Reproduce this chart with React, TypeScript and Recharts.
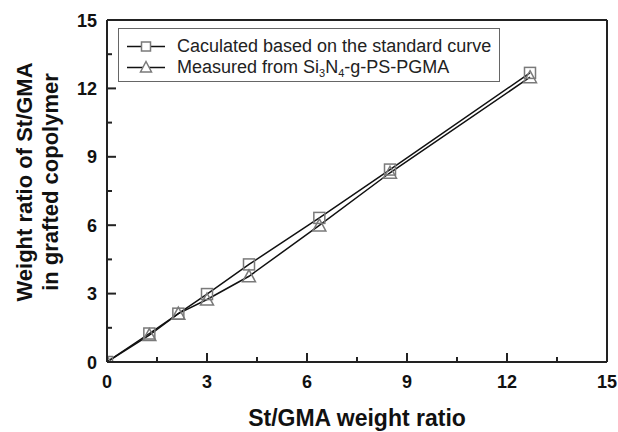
import React from 'react';
import { LineChart, Line, XAxis, YAxis, ReferenceLine, Legend, Label } from 'recharts';

const ratio = [0, 1.27, 2.14, 3.0, 4.26, 6.37, 8.49, 12.69];
const calculated = [0, 1.25, 2.12, 2.98, 4.28, 6.32, 8.44, 12.68];
const measured = [0, 1.18, 2.12, 2.74, 3.76, 5.99, 8.3, 12.49];
const axisTicks = [0, 1.5, 3, 4.5, 6, 7.5, 9, 10.5, 12, 13.5, 15];

const data = ratio.map((r, i) => ({ ratio: r, calculated: calculated[i], measured: measured[i] }));

const FONT = '"Liberation Sans", Arial, Helvetica, sans-serif';
const AXIS = '#222';
const MARK = '#7a7a7a';

const Square = (props: any) => {
  const { cx, cy } = props;
  if (cx == null || cy == null) return <g />;
  return <rect x={cx - 5.5} y={cy - 5.5} width={11} height={11} fill="none" stroke={MARK} strokeWidth={1.5} />;
};

const Triangle = (props: any) => {
  const { cx, cy } = props;
  if (cx == null || cy == null) return <g />;
  return (
    <path
      d={`M${cx},${cy - 6.5} L${cx + 6.5},${cy + 5.5} L${cx - 6.5},${cy + 5.5} Z`}
      fill="none"
      stroke={MARK}
      strokeWidth={1.5}
    />
  );
};

const XTick = (props: any) => {
  const { x, y, payload } = props;
  const major = payload.value % 3 === 0;
  return (
    <g>
      <line x1={x} y1={y} x2={x} y2={y - (major ? 9 : 5)} stroke={AXIS} strokeWidth={2} />
      {major && (
        <text x={x} y={y + 26} textAnchor="middle" fontFamily={FONT} fontWeight="bold" fontSize={18} fill="#111">
          {payload.value}
        </text>
      )}
    </g>
  );
};

const YTick = (props: any) => {
  const { x, y, payload } = props;
  const major = payload.value % 3 === 0;
  return (
    <g>
      <line x1={x} y1={y} x2={x + (major ? 9 : 5)} y2={y} stroke={AXIS} strokeWidth={2} />
      {major && (
        <text x={x - 10} y={y + 6.5} textAnchor="end" fontFamily={FONT} fontWeight="bold" fontSize={18} fill="#111">
          {payload.value}
        </text>
      )}
    </g>
  );
};

const LegendRow = ({ marker, children }: { marker: 'square' | 'triangle'; children: React.ReactNode }) => (
  <div style={{ display: 'flex', alignItems: 'center', height: 21 }}>
    <svg width={58} height={21} style={{ flex: 'none' }}>
      <line x1={8} y1={10.5} x2={46} y2={10.5} stroke="#111" strokeWidth={1.5} />
      {marker === 'square' ? (
        <rect x={22.5} y={6} width={9} height={9} fill="#fff" stroke={MARK} strokeWidth={1.5} />
      ) : (
        <path d="M27,4.5 L32.5,15 L21.5,15 Z" fill="#fff" stroke={MARK} strokeWidth={1.5} />
      )}
    </svg>
    <span style={{ whiteSpace: 'nowrap' }}>{children}</span>
  </div>
);

const subStyle: React.CSSProperties = { fontSize: 11, verticalAlign: -4, lineHeight: 0 };

const LegendBox = () => (
  <div
    style={{
      boxSizing: 'border-box',
      width: 382,
      height: 54,
      border: '1.5px solid #666',
      paddingTop: 7,
      fontFamily: FONT,
      fontSize: 18,
      color: '#222',
      lineHeight: '21px',
      background: '#fff',
    }}
  >
    <LegendRow marker="square">Caculated based on the standard curve</LegendRow>
    <LegendRow marker="triangle">
      Measured from Si<sub style={subStyle}>3</sub>N<sub style={subStyle}>4</sub>-g-PS-PGMA
    </LegendRow>
  </div>
);

const XTitle = (props: any) => {
  const { viewBox } = props;
  return (
    <text
      x={viewBox.x + viewBox.width / 2}
      y={viewBox.y + 64}
      textAnchor="middle"
      fontFamily={FONT}
      fontWeight="bold"
      fontSize={23}
      fill="#111"
    >
      St/GMA weight ratio
    </text>
  );
};

const YTitle = (props: any) => {
  const { viewBox } = props;
  const cy = viewBox.y + viewBox.height / 2 - 9;
  const line = (x: number, s: string) => (
    <text
      x={x}
      y={cy}
      transform={`rotate(-90, ${x}, ${cy})`}
      textAnchor="middle"
      dominantBaseline="central"
      fontFamily={FONT}
      fontWeight="bold"
      fontSize={22}
      fill="#111"
    >
      {s}
    </text>
  );
  return (
    <g>
      {line(24, 'Weight ratio of St/GMA')}
      {line(50, 'in grafted copolymer')}
    </g>
  );
};

export default function App() {
  return (
    <div style={{ position: 'absolute', left: 0, top: 0, width: 618, height: 432, background: '#fff' }}>
      <LineChart width={618} height={432} data={data} margin={{ top: 20, right: 11, bottom: 0, left: 0 }}>
        <XAxis
          dataKey="ratio"
          type="number"
          domain={[0, 15]}
          ticks={axisTicks}
          interval={0}
          allowDataOverflow
          height={70}
          tickSize={0}
          tickMargin={0}
          tickLine={false}
          axisLine={{ stroke: AXIS, strokeWidth: 2 }}
          tick={<XTick />}
        >
          <Label content={<XTitle />} />
        </XAxis>
        <YAxis
          type="number"
          domain={[0, 15]}
          ticks={axisTicks}
          interval={0}
          allowDataOverflow
          width={107}
          tickSize={0}
          tickMargin={0}
          tickLine={false}
          axisLine={{ stroke: AXIS, strokeWidth: 2 }}
          tick={<YTick />}
        >
          <Label content={<YTitle />} />
        </YAxis>
        <ReferenceLine y={15} stroke={AXIS} strokeWidth={2} />
        <ReferenceLine x={15} stroke={AXIS} strokeWidth={2} />
        <Legend
          layout="vertical"
          align="center"
          verticalAlign="middle"
          content={<LegendBox />}
          wrapperStyle={{ position: 'absolute', left: 118, top: 28, width: 382, height: 54 }}
        />
        <Line
          type="linear"
          dataKey="calculated"
          stroke="#111"
          strokeWidth={1.5}
          dot={<Square />}
          activeDot={false}
          isAnimationActive={false}
        />
        <Line
          type="linear"
          dataKey="measured"
          stroke="#111"
          strokeWidth={1.5}
          dot={<Triangle />}
          activeDot={false}
          isAnimationActive={false}
        />
      </LineChart>
    </div>
  );
}
